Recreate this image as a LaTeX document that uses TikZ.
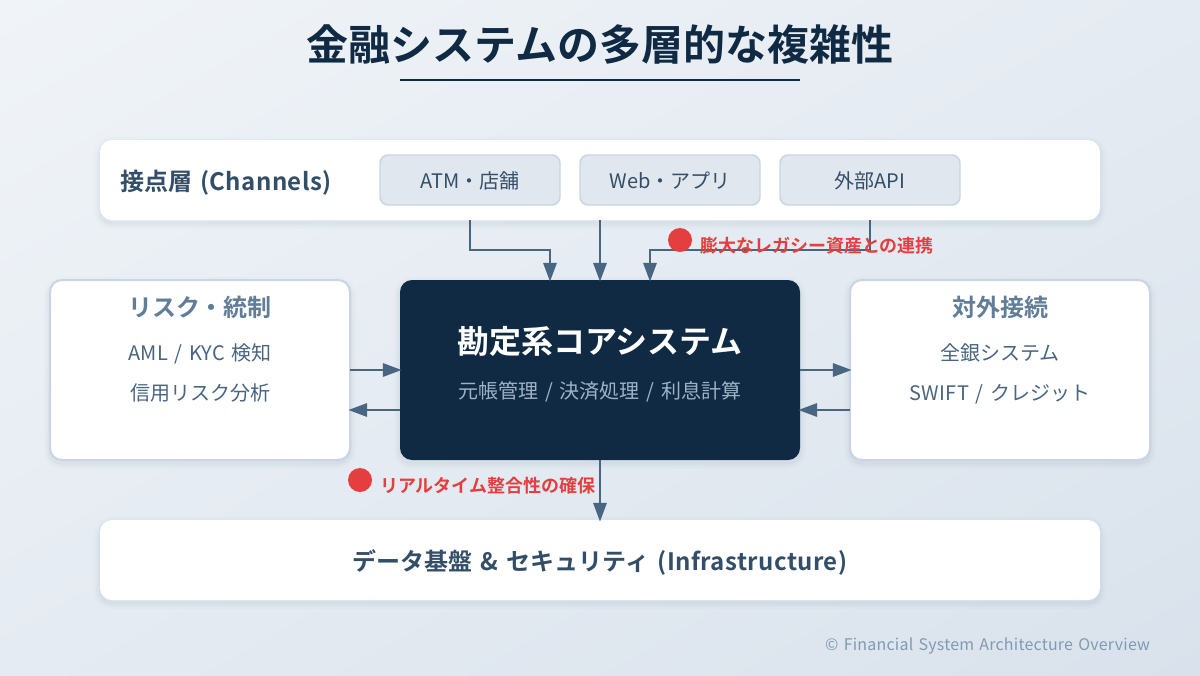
\documentclass[tikz,border=0pt]{standalone}
\usepackage{fontspec}
\setmainfont{Noto Sans CJK JP}[BoldFont={Noto Sans CJK JP Bold}]
\newfontfamily\latf{Noto Sans CJK JP}[LetterSpace=1.3,WordSpace=1.4,BoldFont={Noto Sans CJK JP Bold},BoldFeatures={LetterSpace=1.8}]
\newcommand{\latn}[1]{{\latf #1}}
\usetikzlibrary{arrows.meta,shadings}
\definecolor{navy}{HTML}{102A43}
\definecolor{slateA}{HTML}{334E68}
\definecolor{slateB}{HTML}{486581}
\definecolor{slateC}{HTML}{627D98}
\definecolor{slateD}{HTML}{829AB1}
\definecolor{slateE}{HTML}{9FB3C8}
\definecolor{edgeC}{HTML}{CBD5E1}
\definecolor{chipC}{HTML}{E1E7EE}
\definecolor{alertC}{HTML}{E53E3E}
\definecolor{shadowC}{HTML}{627D98}
\definecolor{bgTL}{HTML}{F0F4F8}
\definecolor{bgMid}{HTML}{E5EBF2}
\definecolor{bgBR}{HTML}{D9E2EC}
\tikzset{
  softshadow/.style={
    preaction={draw=shadowC,draw opacity=.025,line width=9pt,fill=none,transform canvas={yshift=-2.2pt}},
    preaction={draw=shadowC,draw opacity=.035,line width=5.5pt,fill=none,transform canvas={yshift=-2.2pt}},
    preaction={draw=shadowC,draw opacity=.045,line width=2.5pt,fill=none,transform canvas={yshift=-2.2pt}}},
  panel/.style={softshadow,fill=white,rounded corners=9pt,inner sep=0pt,outer sep=0pt},
  sidepanel/.style={panel,draw=edgeC,line width=1.5pt,minimum width=225pt,minimum height=135pt},
  widepanel/.style={panel,minimum width=750pt,minimum height=60pt},
  chip/.style={fill=chipC,draw=edgeC,line width=1.1pt,rounded corners=6pt,inner sep=0pt,outer sep=0pt,minimum width=135pt,minimum height=37.5pt},
  core/.style={softshadow,fill=navy,rounded corners=9pt,inner sep=0pt,outer sep=0pt,minimum width=300pt,minimum height=135pt},
  txt/.style={anchor=base,inner sep=0pt,outer sep=0pt},
  layertitle/.style={txt,font=\fontsize{18pt}{20pt}\selectfont\bfseries,text=slateA},
  chiptext/.style={txt,font=\fontsize{15pt}{17pt}\selectfont,text=slateA},
  sidetitle/.style={txt,font=\fontsize{18pt}{20pt}\selectfont\bfseries,text=slateC},
  sidetext/.style={txt,font=\fontsize{15pt}{17pt}\selectfont,text=slateB},
  alerttext/.style={txt,anchor=base west,font=\fontsize{13.5pt}{15pt}\selectfont\bfseries,text=alertC},
  alertdot/.style={circle,fill=alertC,inner sep=0pt,outer sep=0pt,minimum size=18pt},
  flow/.style={draw=slateB,line width=1.5pt,shorten >=-1.2pt,-{Triangle[length=14pt,width=10pt]}},
}
\begin{document}
\begin{tikzpicture}[x=0.75pt,y=-0.75pt]
\useasboundingbox (0,0) rectangle (1200,675);
\shade[upper left=bgTL,upper right=bgMid,lower left=bgMid,lower right=bgBR] (0,0) rectangle (1200,675);

\node[txt,font=\fontsize{31.5pt}{34pt}\selectfont\bfseries,text=navy] (title) at (600,60) {金融システムの多層的な複雑性};
\coordinate (ruleL) at (400,80);
\coordinate (ruleR) at (800,80);
\draw[navy,line width=1.5pt] (ruleL) -- (ruleR);

\node[widepanel] (channels) at (600,180) {};
\node[widepanel] (infra) at (600,560) {};
\node[sidepanel] (risk) at (200,370) {};
\node[sidepanel] (ext) at (1000,370) {};
\node[core] (core) at (600,370) {};
\node[chip] (atm) at (470,180) {};
\node[chip] (web) at (670,180) {};
\node[chip] (api) at (870,180) {};

\coordinate (chA) at (470,220);
\coordinate (chB) at (600,220);
\coordinate (chC) at (870,220);
\coordinate (coA) at (550,280);
\coordinate (coB) at (600,280);
\coordinate (coC) at (650,280);
\draw[flow] (chA) |- (550,250) -- (coA);
\draw[flow] (chB) -- (coB);
\draw[flow] (chC) |- (650,250) -- (coC);

\draw[flow] (risk.east |- 0,370) -- (core.west |- 0,370);
\draw[flow] (core.west |- 0,410) -- (risk.east |- 0,410);
\draw[flow] (core.east |- 0,370) -- (ext.west |- 0,370);
\draw[flow] (ext.west |- 0,410) -- (core.east |- 0,410);
\draw[flow] (core.south) -- (infra.north);

\node[layertitle,anchor=base west] (chlabel) at (120,190) {接点層\latn{ (Channels)}};
\node[chiptext] (atmT) at (470,188) {\latn{ATM}・店舗};
\node[chiptext] (webT) at (670,188) {\latn{Web}・アプリ};
\node[chiptext] (apiT) at (870,188) {外部\latn{API}};

\node[sidetitle] (riskT) at (200,316) {リスク・統制};
\node[sidetext] (riskA) at (200,360) {\latn{AML / KYC }検知};
\node[sidetext] (riskB) at (200,400) {信用リスク分析};
\node[sidetitle] (extT) at (1000,316) {対外接続};
\node[sidetext] (extA) at (1000,360) {全銀システム};
\node[sidetext] (extB) at (1000,400) {\latn{SWIFT / }クレジット};

\node[txt,font=\fontsize{24pt}{26pt}\selectfont\bfseries,text=white] (coreT) at (600,353) {勘定系コアシステム};
\node[txt,font=\fontsize{15pt}{17pt}\selectfont,text=slateE] (coreS) at (600,398) {元帳管理\latn{ / }決済処理\latn{ / }利息計算};

\node[layertitle] (infraT) at (600,570) {データ基盤\latn{ \& }セキュリティ\latn{ (Infrastructure)}};

\node[alertdot] (dotA) at (680,240) {};
\node[alerttext] (alertA) at (700,252) {膨大なレガシー資産との連携};
\node[alertdot] (dotB) at (360,480) {};
\node[alerttext] (alertB) at (380,492) {リアルタイム整合性の確保};

\node[txt,anchor=base east,font=\fontsize{12pt}{14pt}\selectfont,text=slateD] (foot) at (1150,650) {\latn{© Financial System Architecture Overview}};
\end{tikzpicture}
\end{document}
